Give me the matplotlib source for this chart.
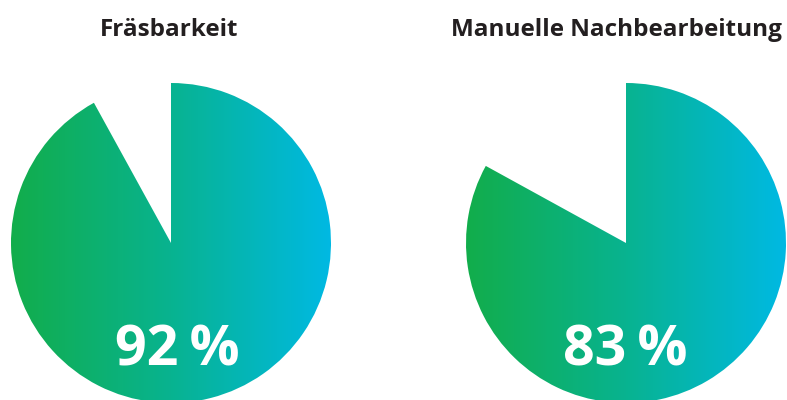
import numpy as np
import matplotlib.pyplot as plt
from matplotlib.colors import LinearSegmentedColormap

## Data
titles = ['Fräsbarkeit', 'Manuelle Nachbearbeitung']
shares = [92, 83]          # percent
labels = ['92\u2009%', '83\u2009%']

## Style
green = '#12ad4b'
cyan = '#00b9e3'
text_dark = '#231f20'
cmap = LinearSegmentedColormap.from_list('grad', [green, '#08b390', cyan])

W, H = 787, 400
fig = plt.figure(figsize=(W / 100, H / 100), dpi=100)

# circle centers in pixels (from top-left) and radius
centers = [(171, 243), (626, 243)]
R = 160
title_x = [169, 616]
text_x = [177, 625]

for i, (cx, cy) in enumerate(centers):
    ax = fig.add_axes([(cx - R) / W, (H - cy - R) / H, 2 * R / W, 2 * R / H])
    ax.axis('off')

    wedges, _ = ax.pie([shares[i], 100 - shares[i]], startangle=90,
                       counterclock=False, radius=1, center=(0, 0),
                       wedgeprops=dict(linewidth=0))
    wedges[0].set_facecolor('none')
    wedges[1].set_visible(False)

    grad = np.linspace(0, 1, 256).reshape(1, -1)
    img = ax.imshow(grad, cmap=cmap, extent=(-1, 1, -1, 1),
                    aspect='auto', interpolation='bicubic', zorder=0)
    img.set_clip_path(wedges[0])
    ax.set_xlim(-1, 1)
    ax.set_ylim(-1, 1)

    fig.text(title_x[i] / W, 1 - 36 / H, titles[i], ha='center', va='baseline',
             fontsize=17.5, fontweight='bold', color=text_dark,
             family=['Open Sans', 'DejaVu Sans'])
    fig.text(text_x[i] / W, 1 - 365 / H, labels[i], ha='center', va='baseline',
             fontsize=40, fontweight='bold', color='white',
             family=['Open Sans', 'DejaVu Sans'])

fig.savefig('out.png', dpi=100)
